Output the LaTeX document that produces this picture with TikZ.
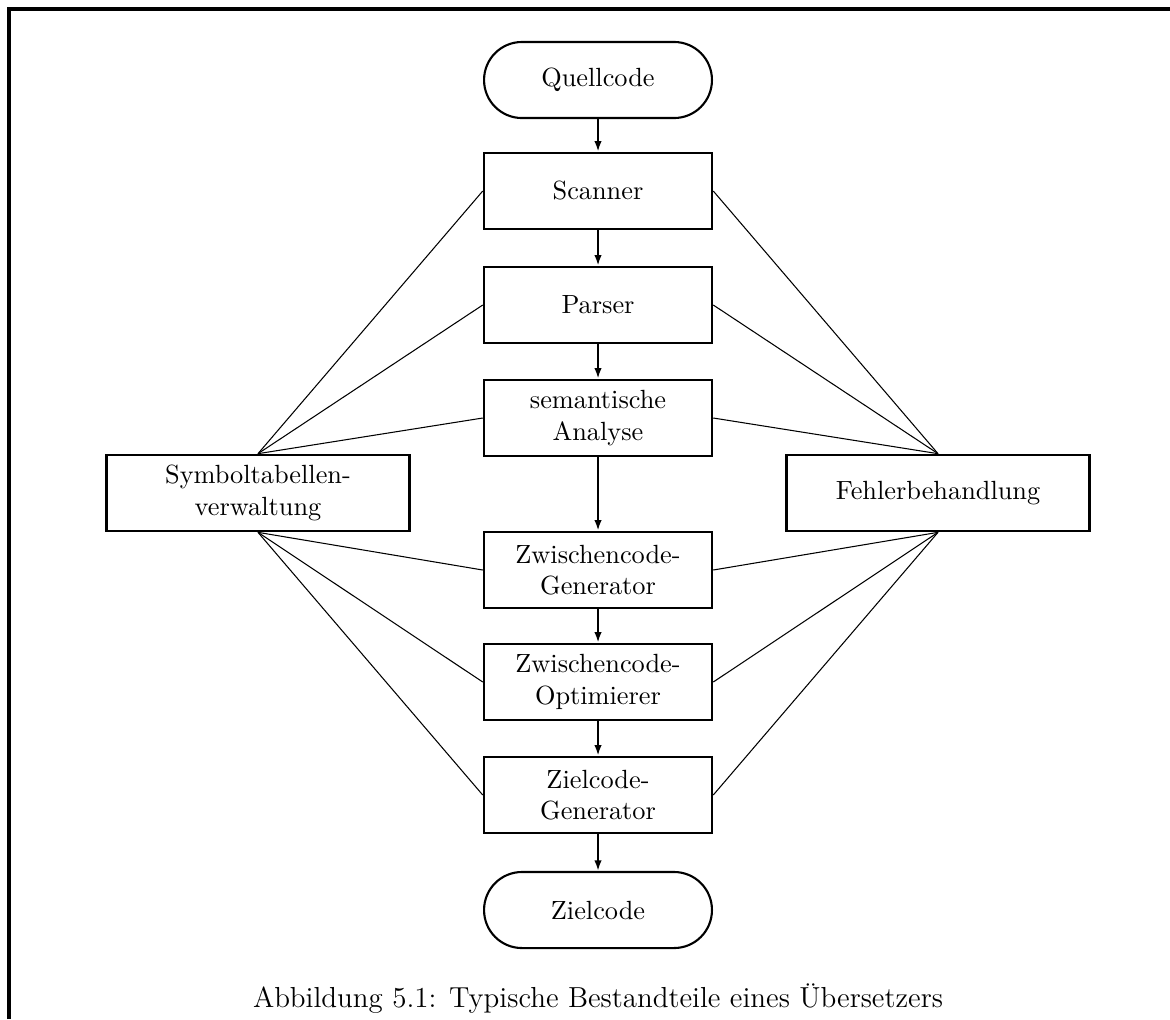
\documentclass[tikz,border=0pt]{standalone}
\usetikzlibrary{positioning,arrows.meta}

\begin{document}
\begin{tikzpicture}[x=0.38pt,y=-0.38pt,>={Latex[length=4pt,width=2.8pt]},
        main node/.style={draw, line width=1pt, rectangle, align=center,
          minimum width=86.6pt, minimum height=28.9pt, inner sep=0pt},
        side node/.style={main node, minimum width=115pt},
        end node/.style={main node, line width=0.8pt, rounded corners=14.4pt},
        link/.style={-, line width=0.4pt},
        flow/.style={->, line width=0.75pt}]

\useasboundingbox (0,0) rectangle (1170,1019);
\draw[line width=1.2pt] (9,1019) -- (9,9) -- (1170,9);

\node[end node] (1) at (598,80) {Quellcode};
\node[main node] (2) at (598,191) {Scanner};
\node[main node] (3) at (598,305) {Parser};
\node[main node] (4) at (598,418) {semantische\\Analyse};
\node[main node] (5) at (598,570) {Zwischencode-\\Generator};
\node[main node] (6) at (598,682) {Zwischencode-\\Optimierer};
\node[main node] (7) at (598,795) {Zielcode-\\Generator};
\node[end node] (8) at (598,910) {Zielcode};

\node[side node] (9) at (258,493) {Symboltabellen-\\verwaltung};
\node[side node] (10) at (938,493) {Fehlerbehandlung};

\node[font=\fontsize{11}{13}\selectfont] (11) at (598,999) {Abbildung 5.1: Typische Bestandteile eines Übersetzers};

\draw[flow] (1.south) -- (2.north);
\draw[flow] (2.south) -- (3.north);
\draw[flow] (3.south) -- (4.north);
\draw[flow] (4.south) -- (5.north);
\draw[flow] (5.south) -- (6.north);
\draw[flow] (6.south) -- (7.north);
\draw[flow] (7.south) -- (8.north);

\draw[link] (9.north) -- (2.west);
\draw[link] (9.north) -- (3.west);
\draw[link] (9.north) -- (4.west);
\draw[link] (9.south) -- (5.west);
\draw[link] (9.south) -- (6.west);
\draw[link] (9.south) -- (7.west);

\draw[link] (10.north) -- (2.east);
\draw[link] (10.north) -- (3.east);
\draw[link] (10.north) -- (4.east);
\draw[link] (10.south) -- (5.east);
\draw[link] (10.south) -- (6.east);
\draw[link] (10.south) -- (7.east);

\end{tikzpicture}
\end{document}
